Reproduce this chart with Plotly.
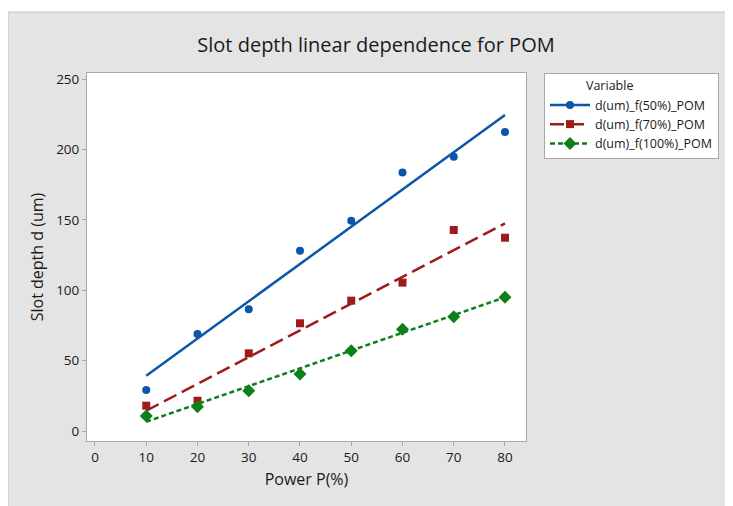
import plotly.graph_objects as go

# ---------------------------------------------------------------------------
# Data
# ---------------------------------------------------------------------------
power = [10, 20, 30, 40, 50, 60, 70, 80]

depth_50 = [29.1, 68.9, 86.4, 128.1, 149.4, 183.7, 194.8, 212.4]
depth_70 = [18.0, 21.5, 55.2, 76.5, 92.6, 105.4, 142.8, 137.3]
depth_100 = [10.7, 17.3, 28.6, 40.5, 57.0, 72.2, 81.2, 95.0]

# fitted line end points (at P = 10 and P = 80)
fit_x = [10, 80]
fit_50 = [39.3, 224.4]
fit_70 = [14.4, 147.5]
fit_100 = [6.6, 95.0]

names = ["d(um)_f(50%)_POM", "d(um)_f(70%)_POM", "d(um)_f(100%)_POM"]
x_ticks = [0, 10, 20, 30, 40, 50, 60, 70, 80]
y_ticks = [0, 50, 100, 150, 200, 250]

# ---------------------------------------------------------------------------
# Style
# ---------------------------------------------------------------------------
_BLUE = "#0A56A8"
_RED = "#9E1B1B"
_GREEN = "#0D8019"
_PANEL = "#E4E4E4"
_FRAME = "#A8A8A8"
_TEXT = "#1A1A1A"
_FONT = "Open Sans, Noto Sans, sans-serif"

# page has an 8px body margin, so figure coords = page coords - 8
OFF = 8
W, H = 733, 506
L, R, T, B = 87 - OFF, 526 - OFF, 73 - OFF, 441 - OFF   # plot area in pixels


def px_x(p):
    return (p - L) / (R - L)


def px_y(p):
    return (B - p) / (B - T)


series = [
    (depth_50, fit_50, _BLUE, "circle", 8, "solid"),
    (depth_70, fit_70, _RED, "square", 8, "14px,6px"),
    (depth_100, fit_100, _GREEN, "diamond", 10, "5px,3px"),
]

fig = go.Figure()

for name, (ys, fit, col, sym, size, dash) in zip(names, series):
    # fitted line
    fig.add_trace(go.Scatter(
        x=fit_x, y=fit,
        mode="lines",
        line=dict(color=col, width=2.5, dash=dash),
        showlegend=False,
        hoverinfo="skip",
    ))
    fig.add_trace(go.Scatter(
        x=power, y=ys,
        mode="markers",
        marker=dict(color=col, symbol=sym, size=size),
        showlegend=False,
        name=name,
    ))
    # legend entry: line with marker
    fig.add_trace(go.Scatter(
        x=[None], y=[None],
        mode="lines+markers",
        line=dict(color=col, width=2.5, dash=dash),
        marker=dict(color=col, symbol=sym, size=size),
        name=name,
    ))

_AXIS = dict(
    showline=True,
    linecolor=_FRAME,
    linewidth=1,
    mirror=True,
    ticks="outside",
    ticklen=4,
    tickcolor=_FRAME,
    showgrid=False,
    zeroline=False,
    tickfont=dict(size=13.5, color=_TEXT, family=_FONT),
)

fig.update_layout(
    width=W,
    height=H,
    margin=dict(l=L, r=W - R, t=T, b=H - B),
    paper_bgcolor=_PANEL,
    plot_bgcolor="white",
    font=dict(family=_FONT, color=_TEXT),
    title=dict(
        text="Slot depth linear dependence for POM",
        font=dict(size=20, color=_TEXT, family=_FONT),
        x=(376 - OFF) / W,
        xanchor="center",
        y=1 - (45 - OFF) / H,
        yanchor="middle",
    ),
    xaxis=dict(
        title=dict(text="Power P(%)", font=dict(size=16, family=_FONT), standoff=8),
        range=[-1.56, 84.1],
        tickvals=x_ticks,
        **_AXIS,
    ),
    yaxis=dict(
        title=dict(text="Slot depth d (um)", font=dict(size=16, family=_FONT), standoff=8),
        range=[-7.1, 254.3],
        tickvals=y_ticks,
        **_AXIS,
    ),
    legend=dict(
        title=dict(text="&nbsp;" * 12 + "Variable", font=dict(size=12.5, family=_FONT)),
        x=px_x(544 - OFF),
        xanchor="left",
        y=1.0,
        yanchor="top",
        bgcolor="white",
        bordercolor=_FRAME,
        borderwidth=1,
        font=dict(size=12.5, family=_FONT, color=_TEXT),
        itemwidth=40,
        tracegroupgap=0,
    ),
    shapes=[
        # white strip above the grey panel
        dict(type="rect", xref="paper", yref="paper",
             x0=px_x(-20), x1=px_x(W + 20), y0=px_y(12 - OFF), y1=px_y(-20),
             fillcolor="white", line=dict(width=0), layer="below"),
        # panel outline
        dict(type="rect", xref="paper", yref="paper",
             x0=px_x(0), x1=px_x(W + 20), y0=px_y(H + 20), y1=px_y(12 - OFF),
             fillcolor="rgba(0,0,0,0)", line=dict(color="#C4C4C4", width=1),
             layer="below"),
    ],
)

fig.write_html("out.html")
